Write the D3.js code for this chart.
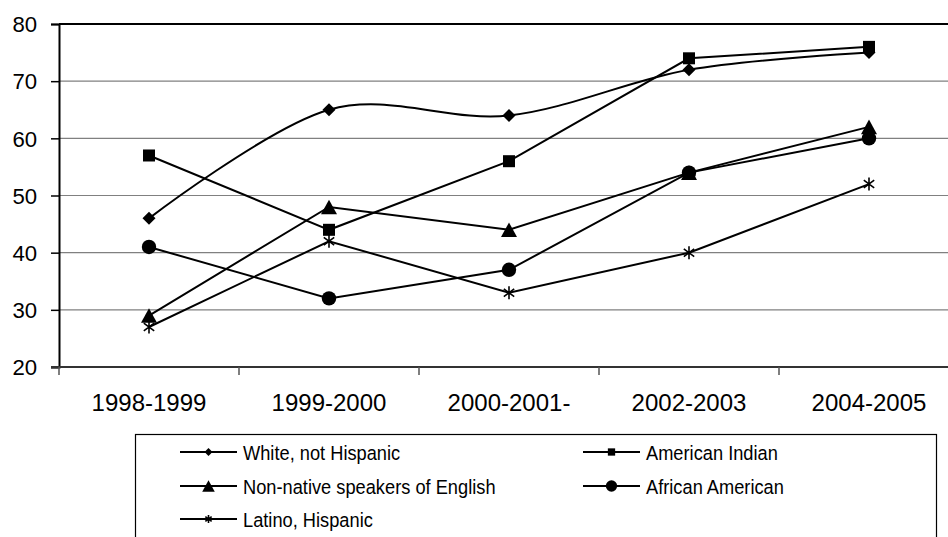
<!DOCTYPE html>
<html>
<head>
<meta charset="utf-8">
<script src="https://cdn.jsdelivr.net/npm/d3@7"></script>
<style>
  html, body { margin: 0; padding: 0; background: #fff; }
  svg { display: block; font-family: "Liberation Sans", Arial, sans-serif; }
</style>
</head>
<body>
<svg id="chart" width="948" height="537"></svg>
<script>
// School years on the horizontal axis
const categories = ["1998-1999", "1999-2000", "2000-2001-", "2002-2003", "2004-2005"];

// Values per group (percent)
const whiteNotHispanic   = [46, 65, 64, 72, 75];
const americanIndian     = [57, 44, 56, 74, 76];
const nonNativeSpeakers  = [29, 48, 44, 54, 62];
const africanAmerican    = [41, 32, 37, 54, 60];
const latinoHispanic     = [27, 42, 33, 40, 52];

const yTicks = [20, 30, 40, 50, 60, 70, 80];

const series = [
  { name: "White, not Hispanic",             values: whiteNotHispanic,  marker: "diamond",  smooth: true  },
  { name: "American Indian",                 values: americanIndian,    marker: "square",   smooth: false },
  { name: "Non-native speakers of English",  values: nonNativeSpeakers, marker: "triangle", smooth: false },
  { name: "African American",                values: africanAmerican,   marker: "circle",   smooth: false },
  { name: "Latino, Hispanic",                values: latinoHispanic,    marker: "asterisk", smooth: false }
];

const svg = d3.select("#chart");
const plotLeft = 59, plotTop = 24, plotBottom = 367, plotRight = 959;

const x = d3.scaleBand().domain(categories).range([plotLeft, plotRight]);
const y = d3.scaleLinear().domain([20, 80]).range([plotBottom, plotTop]);
const cx = c => x(c) + x.bandwidth() / 2;

// Stretch a text element horizontally by a factor
function stretch(sel, k) {
  sel.each(function () {
    const w = this.getComputedTextLength();
    d3.select(this).attr("textLength", w * k).attr("lengthAdjust", "spacingAndGlyphs");
  });
}

// Horizontal gridlines
svg.append("g")
  .selectAll("line")
  .data(yTicks.filter(t => t > 20 && t < 80))
  .join("line")
  .attr("x1", plotLeft).attr("x2", plotRight)
  .attr("y1", d => y(d)).attr("y2", d => y(d))
  .attr("stroke", "#808080").attr("stroke-width", 1.2);

// Top border of the plot area
svg.append("line")
  .attr("x1", plotLeft).attr("x2", plotRight)
  .attr("y1", y(80)).attr("y2", y(80))
  .attr("stroke", "#000").attr("stroke-width", 2);

// Y axis
const yAxis = svg.append("g")
  .attr("transform", `translate(${plotLeft},0)`)
  .call(d3.axisLeft(y).tickValues(yTicks).tickSize(8).tickPadding(14));
yAxis.select(".domain").attr("stroke", "#000").attr("stroke-width", 2);
yAxis.selectAll(".tick line").attr("stroke", "#000").attr("stroke-width", 1.5);
yAxis.selectAll("text")
  .attr("font-size", 21.5).attr("fill", "#000")
  .attr("font-family", "'Liberation Sans', Arial, sans-serif")
  .attr("dy", "0.36em")
  .call(stretch, 1.03);

// X axis with ticks at the category boundaries
const xAxis = svg.append("g").attr("transform", `translate(0,${plotBottom})`);
xAxis.append("line")
  .attr("x1", plotLeft - 8).attr("x2", plotRight)
  .attr("stroke", "#333").attr("stroke-width", 2);
xAxis.selectAll("line.tk")
  .data(categories)
  .join("line").attr("class", "tk")
  .attr("x1", d => x(d)).attr("x2", d => x(d))
  .attr("y1", 0).attr("y2", 8)
  .attr("stroke", "#555").attr("stroke-width", 1.5);
xAxis.selectAll("text")
  .data(categories)
  .join("text")
  .attr("x", d => cx(d)).attr("y", 43.5)
  .attr("text-anchor", "middle")
  .attr("font-size", 24).attr("fill", "#000")
  .text(d => d);

// Marker drawing
function drawMarker(g, type, s) {
  const k = s / 14;
  if (type === "diamond") {
    const r = 6.5 * k;
    g.append("path").attr("d", `M0,${-r}L${r},0L0,${r}L${-r},0Z`).attr("fill", "#000");
  } else if (type === "square") {
    const r = 6 * k;
    g.append("rect").attr("x", -r).attr("y", -r).attr("width", 2 * r).attr("height", 2 * r).attr("fill", "#000");
  } else if (type === "triangle") {
    const w = 8 * k, h = 7.3 * k;
    g.append("path").attr("d", `M0,${-h}L${w},${h}L${-w},${h}Z`).attr("fill", "#000");
  } else if (type === "circle") {
    g.append("circle").attr("r", 7.2 * k).attr("fill", "#000");
  } else if (type === "asterisk") {
    const r = 6.5 * k;
    const a = r * 0.8, b = r * 0.6;
    g.append("path")
      .attr("d", `M0,${-r}L0,${r}M${-a},${-b}L${a},${b}M${-a},${b}L${a},${-b}`)
      .attr("stroke", "#000").attr("stroke-width", 1.6).attr("fill", "none");
  }
}

// Series lines and markers
series.forEach(s => {
  const pts = s.values.map((v, i) => [cx(categories[i]), y(v)]);
  const line = d3.line().curve(s.smooth ? d3.curveCatmullRom.alpha(0) : d3.curveLinear);
  svg.append("path")
    .attr("d", line(pts))
    .attr("fill", "none").attr("stroke", "#000").attr("stroke-width", 2);
});
series.forEach(s => {
  s.values.forEach((v, i) => {
    const g = svg.append("g").attr("transform", `translate(${cx(categories[i])},${y(v)})`);
    drawMarker(g, s.marker, 14);
  });
});

// Legend
svg.append("rect")
  .attr("x", 135.5).attr("y", 434.5).attr("width", 801).attr("height", 140)
  .attr("fill", "none").attr("stroke", "#000").attr("stroke-width", 1.2);

const legendCols = [180, 583];
const legendRows = [452, 486, 519];
const lg = svg.append("g");
series.forEach((s, i) => {
  const lx = legendCols[i % 2], ly = legendRows[Math.floor(i / 2)];
  const g = lg.append("g").attr("transform", `translate(${lx},${ly})`);
  g.append("line").attr("x1", 0).attr("x2", 57).attr("y1", 0).attr("y2", 0)
    .attr("stroke", "#000").attr("stroke-width", 2);
  const m = g.append("g").attr("transform", "translate(28.5,0)");
  drawMarker(m, s.marker, s.marker === "triangle" || s.marker === "circle" ? 11 : 8.5);
  g.append("text")
    .attr("x", 63).attr("y", 7.5)
    .attr("font-size", 20.5).attr("fill", "#000")
    .text(s.name)
    .call(stretch, 0.89);
});
</script>
</body>
</html>
